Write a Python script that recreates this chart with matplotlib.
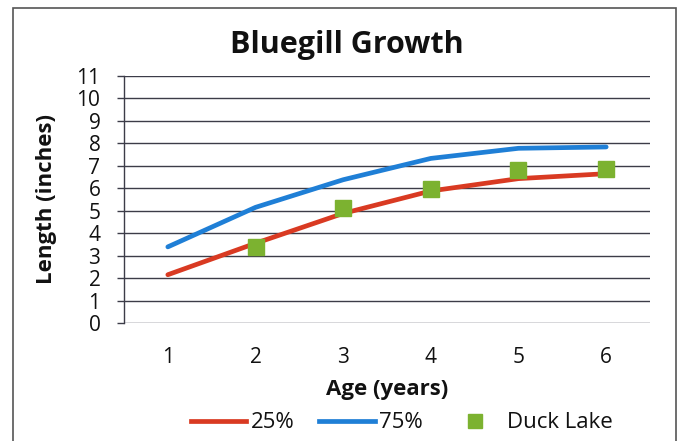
import matplotlib
matplotlib.use("Agg")
import matplotlib.pyplot as plt
from matplotlib.patches import Rectangle
from matplotlib.lines import Line2D

ages = [1, 2, 3, 4, 5, 6]
p25 = [2.15, 3.55, 4.88, 5.88, 6.43, 6.65]
p75 = [3.39, 5.15, 6.38, 7.33, 7.78, 7.84]
duck_ages = [2, 3, 4, 5, 6]
duck = [3.39, 5.14, 5.98, 6.83, 6.84]
yticks = list(range(0, 12))

plt.rcParams['font.family'] = ['Open Sans', 'DejaVu Sans']

W, H = 680, 441
fig = plt.figure(figsize=(W / 100, H / 100), dpi=100)
ax = fig.add_axes([124 / W, 1 - 323 / H, (650 - 124) / W, (323 - 76) / H])

red = '#d93a22'
blue = '#1f7fd6'
green = '#7cb230'

ax.plot(ages, p25, color=red, lw=3.4, solid_capstyle='round', zorder=3)
ax.plot(ages, p75, color=blue, lw=3.4, solid_capstyle='round', zorder=3)
ax.plot(duck_ages, duck, ls='none', marker='s', ms=11, color=green, zorder=4)

ax.set_xlim(0.5, 6.5)
ax.set_ylim(0, 11)
ax.set_yticks(yticks)
ax.set_xticks(ages)
ax.yaxis.grid(True, color='#3c3c48', lw=1.0)
ax.set_axisbelow(True)
for s in ['top', 'right', 'bottom']:
    ax.spines[s].set_visible(False)
ax.spines['left'].set_color('#3c3c48')
ax.spines['left'].set_linewidth(1.0)
ax.tick_params(axis='y', length=5, width=1.0, color='#3c3c48', labelsize=15, pad=12)
ax.tick_params(axis='x', length=0, labelsize=15, pad=17)
for lab in ax.get_yticklabels() + ax.get_xticklabels():
    lab.set_color('#111111')

ax.set_xlabel('Age (years)', fontsize=16, fontweight='bold', labelpad=8, color='#111111')
ax.set_ylabel('Length (inches)', fontsize=16, fontweight='bold', labelpad=14, color='#111111')
fig.text(347 / W, 1 - 45 / H, 'Bluegill Growth', ha='center', va='center',
         fontsize=22, fontweight='bold', color='#111111')

handles = [Line2D([], [], color=red, lw=3.4),
           Line2D([], [], color=blue, lw=3.4),
           Line2D([], [], ls='none', marker='s', ms=10, color=green)]
leg = fig.legend(handles, ['25%', '75%', 'Duck Lake'], loc='center',
                 bbox_to_anchor=(402 / W, 1 - 423 / H), ncol=3, frameon=False,
                 fontsize=16, handlelength=2.5, handletextpad=0.2, columnspacing=1.1,
                 borderpad=0, borderaxespad=0)
for t in leg.get_texts():
    t.set_color('#111111')

fig.patches.append(Rectangle((13 / W, -0.05), (676 - 13) / W, (1 - 8 / H) + 0.05,
                             transform=fig.transFigure, fill=False,
                             edgecolor='#555555', lw=1.2))

fig.savefig('out.png', dpi=100)
